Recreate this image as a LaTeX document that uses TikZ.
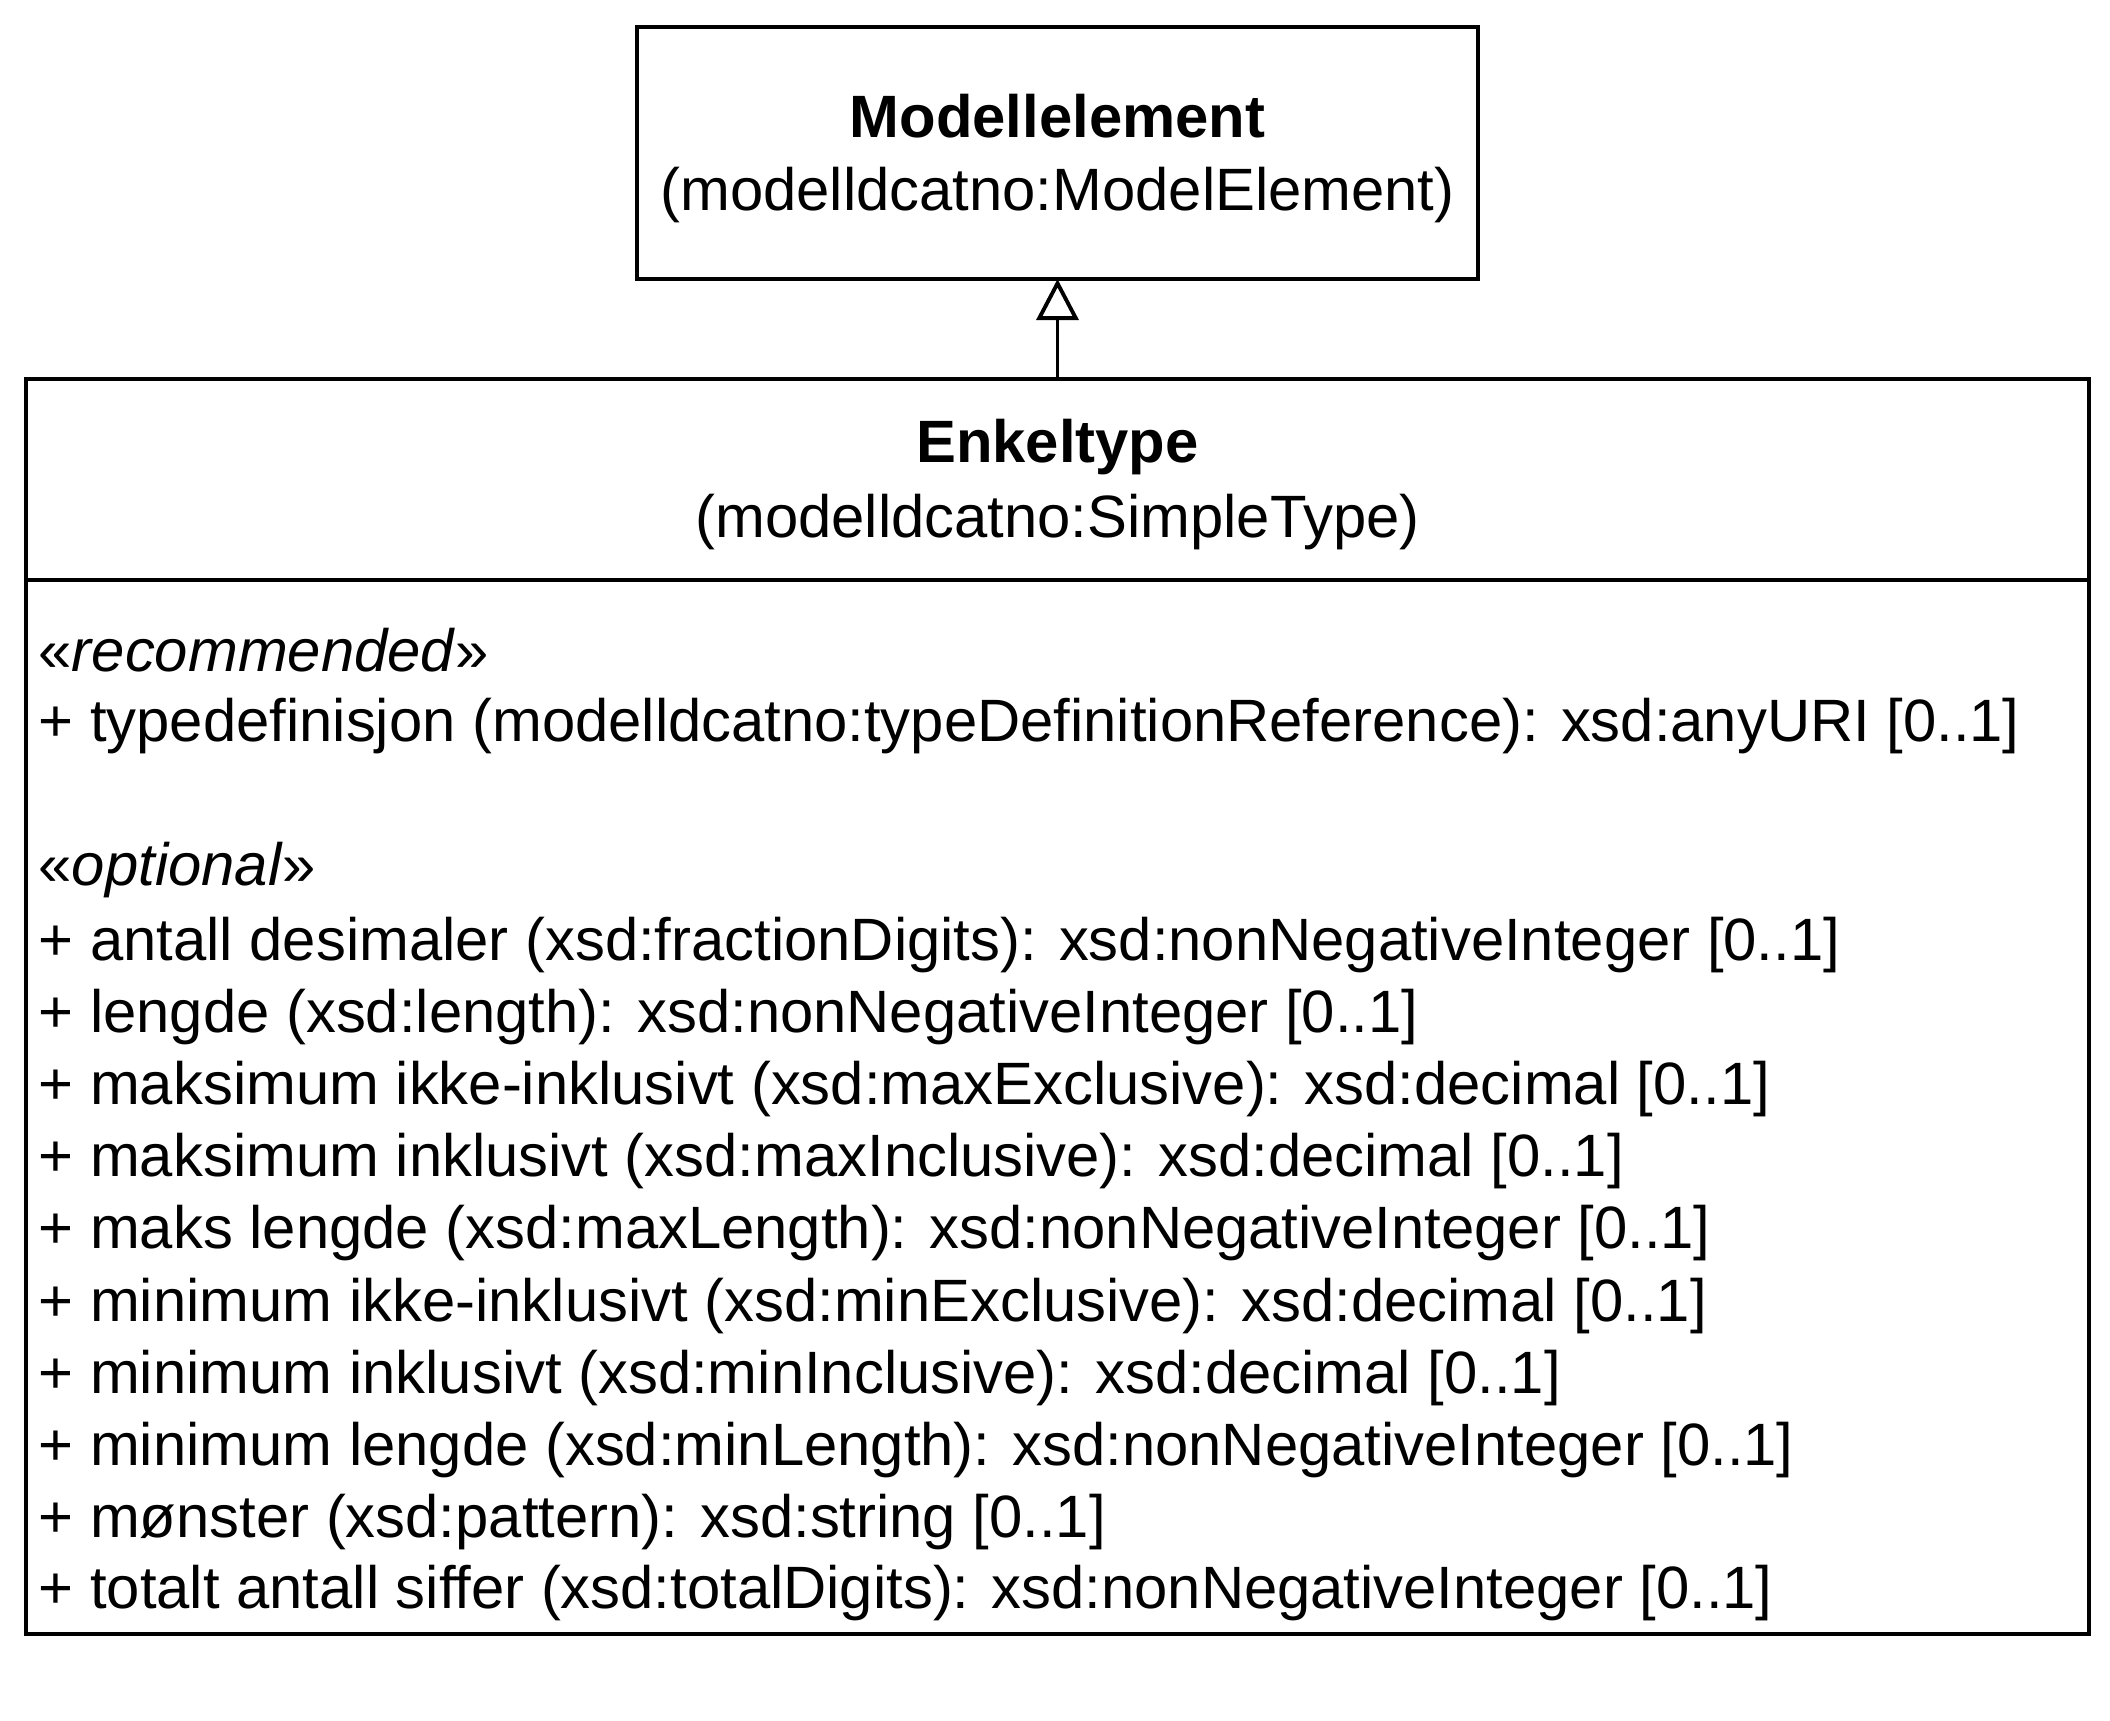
\documentclass[tikz,border=0pt]{standalone}
\usepackage{fontspec}
\setmainfont{Liberation Sans}
\usetikzlibrary{arrows.meta}
\tikzset{klasse/.style={draw=black, line width=1.1pt, inner sep=0pt, outer sep=0pt},
	attr/.style={anchor=base west, inner sep=0pt},
	kopf/.style={anchor=base, inner sep=0pt},
	arv/.style={-{Triangle[open, length=0.41cm, width=0.42cm]}, line width=1.1pt}}

\begin{document}
\begin{tikzpicture}[x=0.01cm, y=-0.01cm, font=\fontsize{17}{19.6}\selectfont]
	\useasboundingbox (0,0) rectangle (2110,1720);
	%Klassen
	\node[klasse, minimum width=8.41cm, minimum height=2.52cm] (modell) at (1057.5,153) {};
	\node[klasse, minimum width=20.61cm, minimum height=12.55cm] (enkel) at (1057.5,1006.5) {};
	\coordinate (trenn) at (0,580);
	\draw[line width=1.1pt] (enkel.west |- trenn) -- (enkel.east |- trenn);
	%Vererbung
	\draw[arv] (enkel.north) -- (modell.south);
	%Kopf
	\node[kopf] (modellnavn) at (1057.5,137) {\textbf{Modellelement}};
	\node[kopf] (modellns) at (1057.5,210) {(modelldcatno:ModelElement)};
	\node[kopf] (enkelnavn) at (1057.5,462) {\textbf{Enkeltype}};
	\node[kopf] (enkelns) at (1057.5,537) {(modelldcatno:SimpleType)};
	%Attribute
	\node[attr] (rec) at (38,671) {«\textit{recommended}»};
	\node[attr] (typedef) at (38,741) {+ typedefinisjon (modelldcatno:typeDefinitionReference): xsd:anyURI [0..1]};
	\node[attr] (opt) at (38,885) {«\textit{optional}»};
	\node[attr] (desimaler) at (38,960) {+ antall desimaler (xsd:fractionDigits): xsd:nonNegativeInteger [0..1]};
	\node[attr] (lengde) at (38,1032) {+ lengde (xsd:length): xsd:nonNegativeInteger [0..1]};
	\node[attr] (maxex) at (38,1104) {+ maksimum ikke-inklusivt (xsd:maxExclusive): xsd:decimal [0..1]};
	\node[attr] (maxinc) at (38,1176) {+ maksimum inklusivt (xsd:maxInclusive): xsd:decimal [0..1]};
	\node[attr] (maxlen) at (38,1248) {+ maks lengde (xsd:maxLength): xsd:nonNegativeInteger [0..1]};
	\node[attr] (minex) at (38,1321) {+ minimum ikke-inklusivt (xsd:minExclusive): xsd:decimal [0..1]};
	\node[attr] (mininc) at (38,1393) {+ minimum inklusivt (xsd:minInclusive): xsd:decimal [0..1]};
	\node[attr] (minlen) at (38,1465) {+ minimum lengde (xsd:minLength): xsd:nonNegativeInteger [0..1]};
	\node[attr] (moenster) at (38,1537) {+ mønster (xsd:pattern): xsd:string [0..1]};
	\node[attr] (siffer) at (38,1608) {+ totalt antall siffer (xsd:totalDigits): xsd:nonNegativeInteger [0..1]};
\end{tikzpicture}
\end{document}
